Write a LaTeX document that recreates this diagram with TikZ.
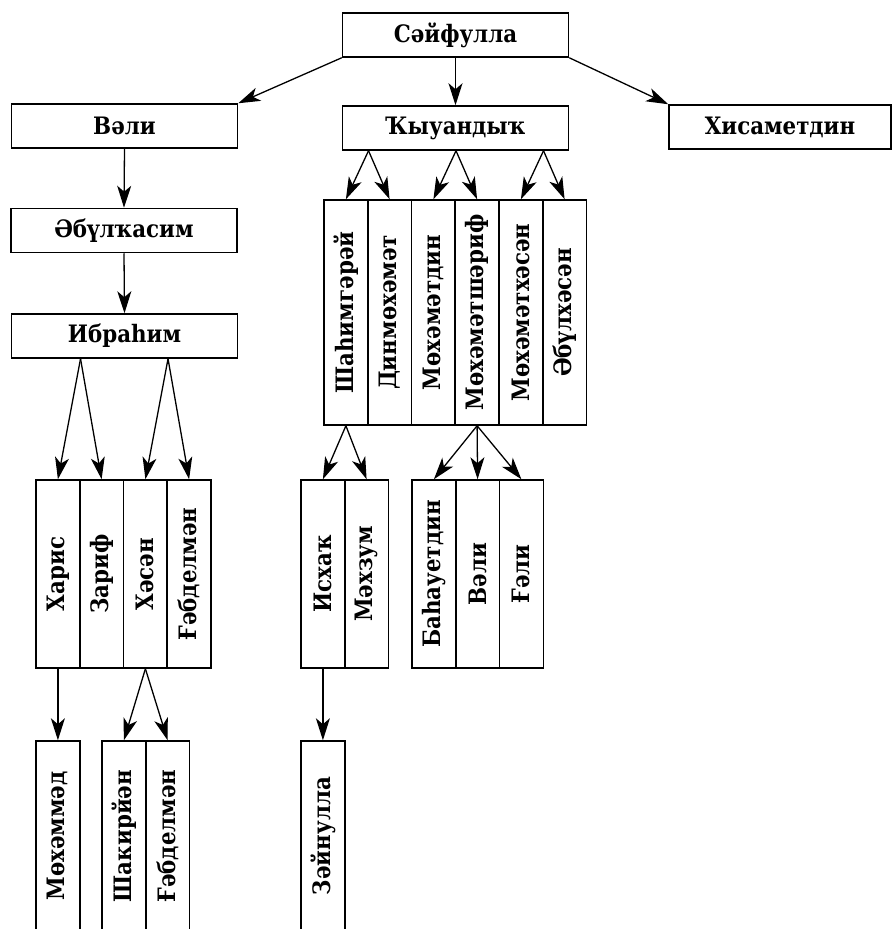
\documentclass[tikz,border=0pt]{standalone}
\usepackage{fontspec}
\setmainfont{DejaVu Serif}[FakeStretch=0.89]
\usetikzlibrary{arrows.meta}

\newcommand{\kinfont}{\fontsize{24}{28}\selectfont\bfseries}
\newcommand{\up}[1]{\rotatebox{90}{#1}}

\begin{document}
\begin{tikzpicture}[x=1pt, y=-1pt,
		namebox/.style={draw, line width=1.5pt, minimum width=226pt, minimum height=44pt, inner sep=0pt, font=\kinfont},
		colbox/.style={draw, line width=1.5pt, minimum width=43.75pt, minimum height=188pt, inner sep=0pt, font=\kinfont},
		tallbox/.style={colbox, minimum height=225pt},
		lowbox/.style={colbox, minimum height=190pt},
		kin/.style={line width=1.3pt, -{Stealth[length=22pt, width=14pt, inset=6pt]}}]
		\useasboundingbox (0, 0) rectangle (893, 929);
		\clip (0, 0) rectangle (893, 929);
		
		\node[namebox] (saif) at (455.5, 35) {Сәйфулла};
		\node[namebox] (vali) at (124.5, 126) {Вәли};
		\node[namebox] (kyu) at (455.5, 128) {Ҡыуандыҡ};
		\node[namebox, minimum width=222pt] (xis) at (780, 127) {Хисаметдин};
		\node[namebox] (abul) at (124, 230.5) {Әбүлҡасим};
		\node[namebox] (ibr) at (124.5, 336) {Ибраһим};
		
		\node[colbox] (haris) at (57.9, 574) {\up{Харис}};
		\node[colbox] (zarif) at (101.6, 574) {\up{Зариф}};
		\node[colbox] (xasan) at (145.4, 574) {\up{Хәсән}};
		\node[colbox] (gabdel) at (189.1, 574) {\up{Ғәбделмән}};
		
		\node[tallbox] (shah) at (345.9, 312.5) {\up{Шаһимгәрәй}};
		\node[tallbox] (dinm) at (389.6, 312.5) {\up{Динмөхәмәт}};
		\node[tallbox] (mtdin) at (433.4, 312.5) {\up{Мөхәмәтдин}};
		\node[tallbox] (msharif) at (477.1, 312.5) {\up{Мөхәмәтшәриф}};
		\node[tallbox] (mxasan) at (520.9, 312.5) {\up{Мөхәмәтхәсән}};
		\node[tallbox] (abulx) at (564.6, 312.5) {\up{Әбүлхәсән}};
		
		\node[colbox] (isxaq) at (322.9, 574) {\up{Исхаҡ}};
		\node[colbox] (mexzum) at (366.6, 574) {\up{Мәхзум}};
		\node[colbox] (bahau) at (433.9, 574) {\up{Баһауетдин}};
		\node[colbox] (vali2) at (477.6, 574) {\up{Вәли}};
		\node[colbox] (gali) at (521.4, 574) {\up{Ғәли}};
		
		\node[lowbox] (mexammed) at (57.9, 836) {\up{Мөхәммәд}};
		\node[lowbox] (shakir) at (123.9, 836) {\up{Шакирйән}};
		\node[lowbox] (gabdel2) at (167.6, 836) {\up{Ғәбделмән}};
		\node[lowbox] (zayn) at (322.9, 836) {\up{Зәйнулла}};
		
		\coordinate (ibrl) at (haris.east |- ibr.south);
		\coordinate (ibrr) at (xasan.east |- ibr.south);
		\coordinate (kyul) at (shah.east |- kyu.south);
		\coordinate (kyum) at (mtdin.east |- kyu.south);
		\coordinate (kyur) at (mxasan.east |- kyu.south);
		
		\draw[kin] (saif.south west) -- (vali.north east);
		\draw[kin] (saif.south) -- (kyu.north);
		\draw[kin] (saif.south east) -- (xis.north west);
		\draw[kin] (vali.south) -- (abul.north);
		\draw[kin] (abul.south) -- (ibr.north);
		
		\draw[kin] (ibrl) -- (haris.north);
		\draw[kin] (ibrl) -- (zarif.north);
		\draw[kin] (ibrr) -- (xasan.north);
		\draw[kin] (ibrr) -- (gabdel.north);
		
		\draw[kin] (kyul) -- (shah.north);
		\draw[kin] (kyul) -- (dinm.north);
		\draw[kin] (kyum) -- (mtdin.north);
		\draw[kin] (kyum) -- (msharif.north);
		\draw[kin] (kyur) -- (mxasan.north);
		\draw[kin] (kyur) -- (abulx.north);
		
		\draw[kin] (shah.south) -- (isxaq.north);
		\draw[kin] (shah.south) -- (mexzum.north);
		\draw[kin] (msharif.south) -- (bahau.north);
		\draw[kin] (msharif.south) -- (vali2.north);
		\draw[kin] (msharif.south) -- (gali.north);
		
		\draw[kin] (haris.south) -- (mexammed.north);
		\draw[kin] (xasan.south) -- (shakir.north);
		\draw[kin] (xasan.south) -- (gabdel2.north);
		\draw[kin] (isxaq.south) -- (zayn.north);
	\end{tikzpicture}
\end{document}
